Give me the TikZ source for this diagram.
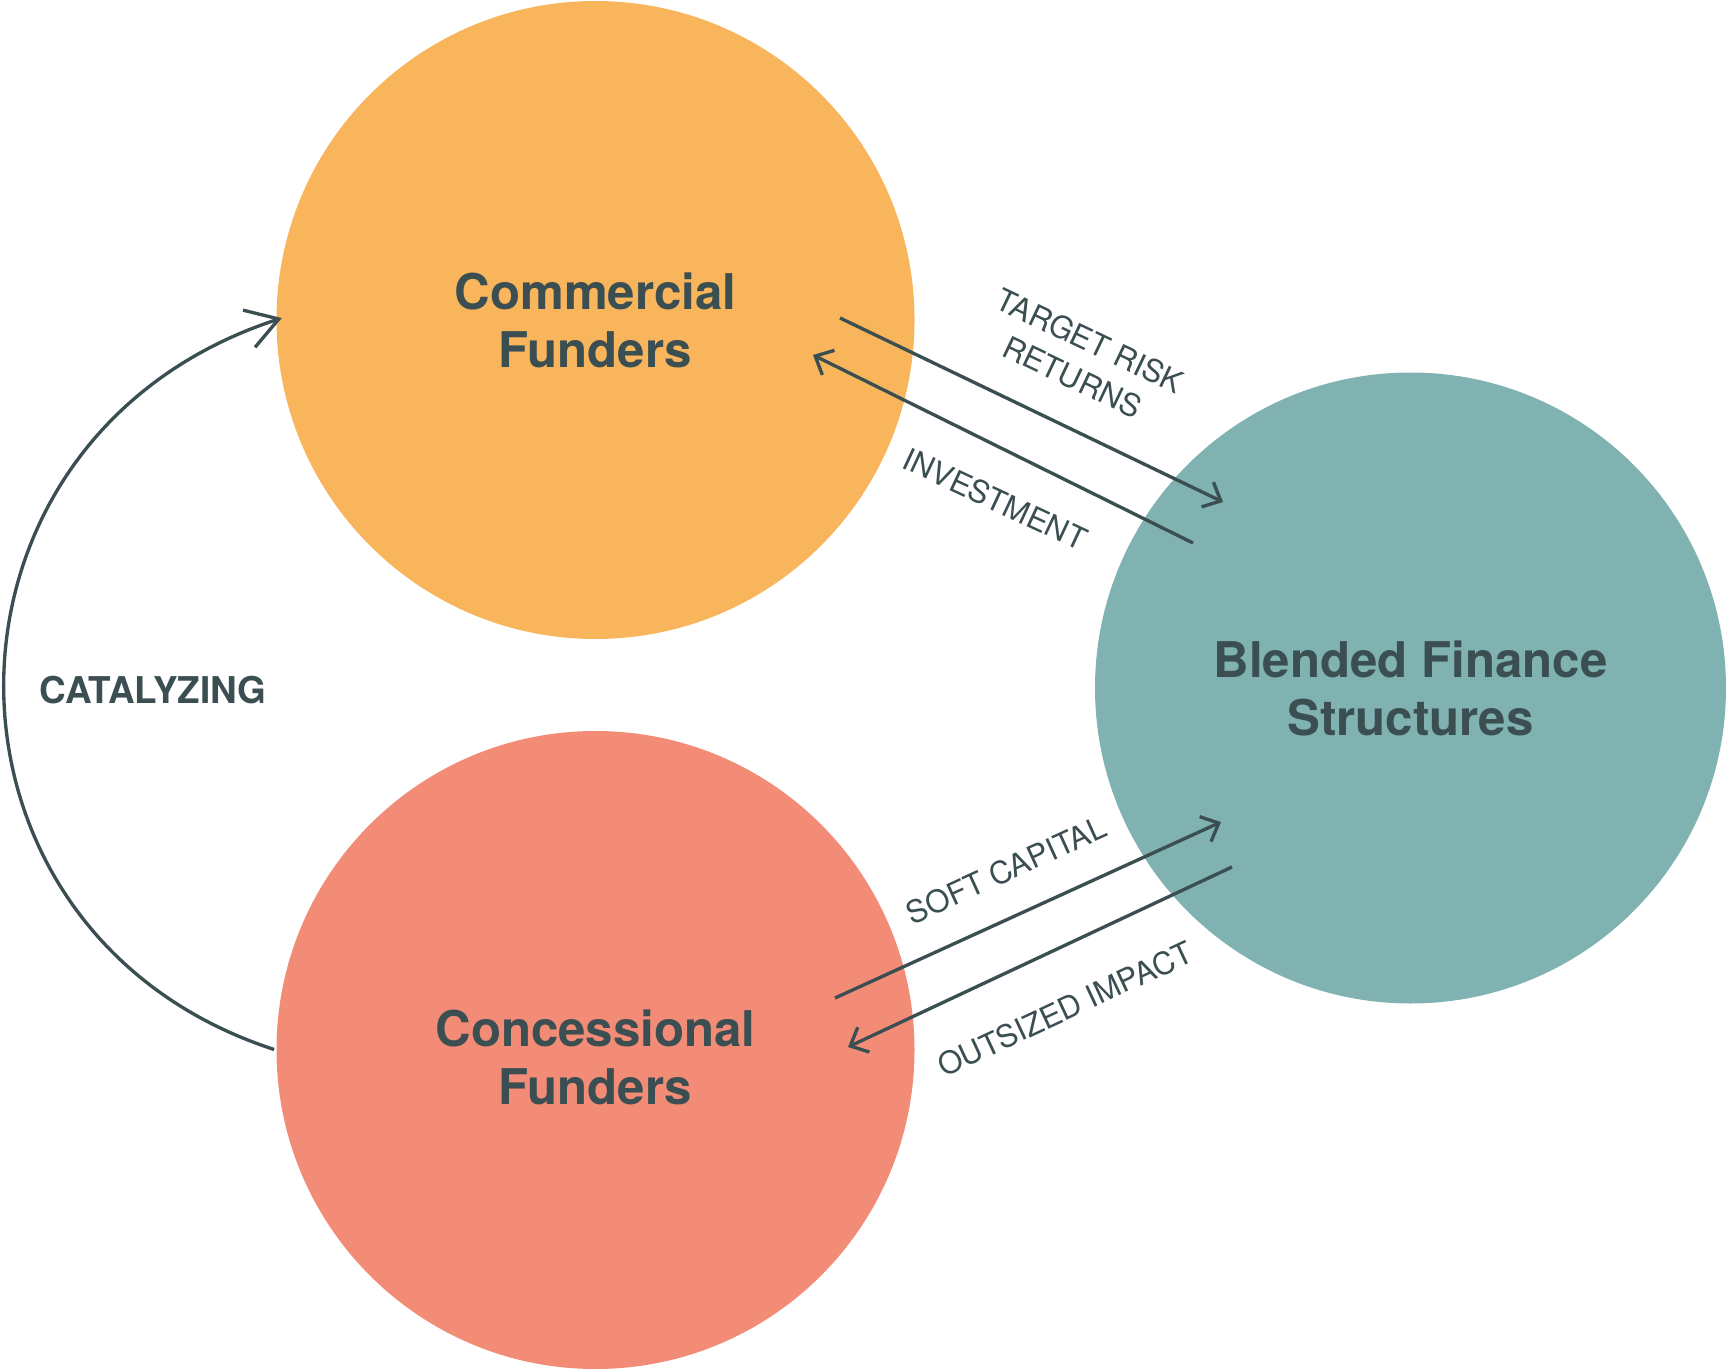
\documentclass[tikz,border=0pt]{standalone}
\usepackage{fontspec}
\setmainfont{TeX Gyre Heros}
\usetikzlibrary{arrows.meta,calc}
\definecolor{orng}{HTML}{F9B55B}
\definecolor{slmn}{HTML}{F38C77}
\definecolor{sea}{HTML}{80B2B2}
\definecolor{ink}{HTML}{3B4E51}

\begin{document}
\begin{tikzpicture}[
 fund/.style={circle, minimum size=6.38cm, inner sep=0pt, text=ink, align=center, font=\fontsize{14}{16.5}\selectfont\bfseries},
 lbl/.style={text=ink, align=center, inner sep=0pt, font=\fontsize{8.8}{11.4}\selectfont},
 flow/.style={draw=ink, line width=0.95pt, -{Straight Barb[length=4.2pt,width=7.8pt]}}
 ]
 \useasboundingbox (0,0) rectangle (17.26,13.70);

 \node (comm) at (5.955,10.50) [fund, fill=orng] {Commercial\\Funders};
 \node (conc) at (5.955,3.20) [fund, fill=slmn, text height=1.09cm] {Concessional\\Funders};
 \node (blend) at (14.105,6.82) [fund, fill=sea, minimum size=6.31cm] {Blended Finance\\Structures};

 \draw [flow] ($(comm.center)+(2.445,0.02)$) -- ($(blend.center)+(-1.875,1.86)$);
 \draw [flow] ($(blend.center)+(-2.175,1.45)$) -- ($(comm.center)+(2.175,-0.35)$);
 \draw [flow] ($(conc.center)+(2.395,0.52)$) -- ($(blend.center)+(-1.895,-1.34)$);
 \draw [flow] ($(blend.center)+(-1.785,-1.79)$) -- ($(conc.center)+(2.525,0.03)$);

 \node (ret) at (10.81,10.11) [lbl, rotate=-25.5] {TARGET RISK\\RETURNS};
 \node (invest) at (9.95,8.71) [lbl, rotate=-25] {INVESTMENT};
 \node (soft) at (10.06,5.00) [lbl, rotate=24.5] {SOFT CAPITAL};
 \node (impact) at (10.65,3.61) [lbl, rotate=25] {OUTSIZED IMPACT};

 \draw [draw=ink, line width=0.95pt, shorten <=0.5pt, shorten >=-1.8pt, -{Straight Barb[length=8.9pt,width=11.1pt]}] (conc.west) to [out=162,in=-162,looseness=1.34] (comm.west);
 \node (cat) at (1.53,6.795) [text=ink, font=\fontsize{10.5}{12}\selectfont\bfseries] {CATALYZING};
\end{tikzpicture}
\end{document}
